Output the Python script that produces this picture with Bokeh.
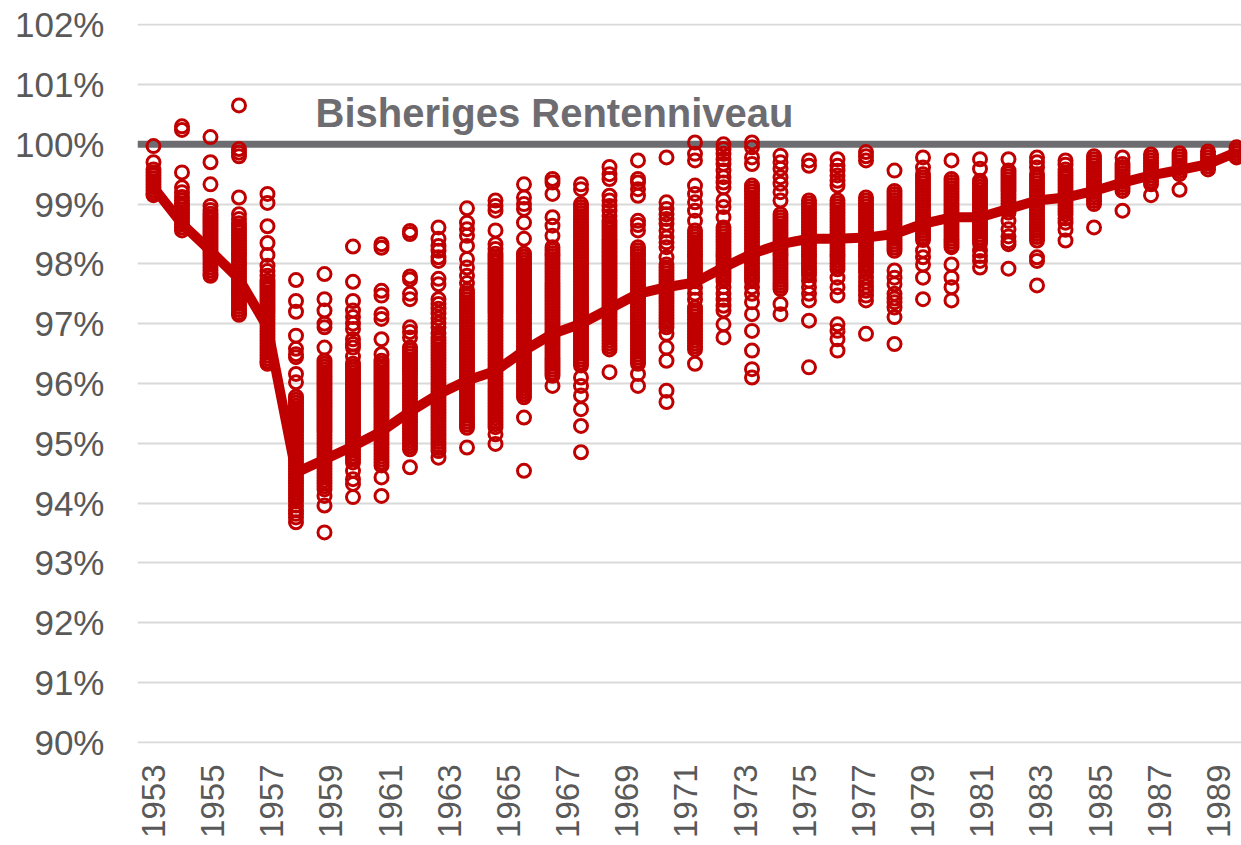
from bokeh.plotting import figure
from bokeh.models import Range1d, FixedTicker, PrintfTickFormatter, Span, Label, ColumnDataSource
from bokeh.embed import file_html
from bokeh.resources import INLINE
import math

# ---------------- data ----------------
tick_years = list(range(1953, 1990, 2))          # axis labels
y_ticks = list(range(90, 103))                     # 90% .. 102%

cohorts = list(range(1953, 1992))                  # scatter/line columns

mean_line = [99.28, 98.67, 98.22, 97.75, 96.94, 94.51, 94.73, 94.95, 95.20, 95.53,
             95.82, 96.05, 96.21, 96.55, 96.83, 97.00, 97.25, 97.50, 97.61, 97.69,
             97.94, 98.17, 98.33, 98.42, 98.42, 98.44, 98.50, 98.67, 98.78, 98.78,
             98.92, 99.06, 99.11, 99.22, 99.36, 99.48, 99.57, 99.67, 99.87]

c1953 = [99.97, 99.7, 99.58, 99.53, 99.48, 99.43, 99.38, 99.33, 99.28, 99.23, 99.18, 99.15]
c1954 = [100.3, 100.24, 99.53, 99.28, 99.2, 99.12, 99.06, 99.01, 98.96, 98.91, 98.86, 98.81, 98.76,
         98.71, 98.66, 98.61, 98.56]
c1955 = [100.12, 99.7, 99.33, 98.97, 98.9, 98.84, 98.79, 98.74, 98.69, 98.64, 98.59, 98.54, 98.49,
         98.44, 98.39, 98.34, 98.29, 98.24, 98.19, 98.14, 98.09, 98.04, 97.99, 97.94, 97.89, 97.84, 97.8]
c1956 = [100.65, 99.92, 99.86, 99.8, 99.11, 98.83, 98.75, 98.68, 98.63, 98.58, 98.53, 98.48, 98.43,
         98.38, 98.33, 98.28, 98.23, 98.18, 98.13, 98.08, 98.03, 97.98, 97.93, 97.88, 97.83, 97.78,
         97.73, 97.68, 97.63, 97.58, 97.53, 97.48, 97.43, 97.38, 97.33, 97.28, 97.23, 97.18, 97.15]
c1957 = [99.17, 99.02, 98.63, 98.35, 98.15, 97.97, 97.88, 97.8, 97.72, 97.67, 97.62, 97.57, 97.52,
         97.47, 97.42, 97.37, 97.32, 97.27, 97.22, 97.17, 97.12, 97.07, 97.02, 96.97, 96.92, 96.87,
         96.82, 96.77, 96.72, 96.67, 96.62, 96.57, 96.52, 96.47, 96.42, 96.37, 96.33]
c1958 = [97.73, 97.38, 97.2, 96.8, 96.58, 96.49, 96.44, 96.16, 96.02, 95.78, 95.73, 95.68, 95.63,
         95.58, 95.53, 95.48, 95.43, 95.38, 95.33, 95.28, 95.23, 95.18, 95.13, 95.08, 95.03, 94.98,
         94.93, 94.88, 94.83, 94.78, 94.73, 94.68, 94.63, 94.58, 94.53, 94.48, 94.43, 94.38, 94.33,
         94.28, 94.23, 94.18, 94.13, 94.08, 94.03, 93.96, 93.88, 93.82, 93.76, 93.68]
c1959 = [97.83, 97.41, 97.22, 97.0, 96.94, 96.6, 96.38, 96.33, 96.28, 96.23, 96.18, 96.13, 96.08,
         96.03, 95.98, 95.93, 95.88, 95.83, 95.78, 95.73, 95.68, 95.63, 95.58, 95.53, 95.48, 95.43,
         95.38, 95.33, 95.28, 95.23, 95.18, 95.13, 95.08, 95.03, 94.98, 94.93, 94.88, 94.83, 94.78,
         94.73, 94.68, 94.63, 94.58, 94.53, 94.48, 94.43, 94.38, 94.33, 94.28, 94.23, 94.12, 93.96, 93.51]
c1960 = [98.29, 97.7, 97.38, 97.22, 97.11, 97.0, 96.91, 96.74, 96.66, 96.6, 96.45, 96.33, 96.28,
         96.23, 96.18, 96.13, 96.08, 96.03, 95.98, 95.93, 95.88, 95.83, 95.78, 95.73, 95.68, 95.63,
         95.58, 95.53, 95.48, 95.43, 95.38, 95.33, 95.28, 95.23, 95.18, 95.13, 95.08, 95.03, 94.98,
         94.93, 94.88, 94.83, 94.78, 94.73, 94.68, 94.54, 94.4, 94.32, 94.1]
c1961 = [98.33, 98.27, 97.55, 97.47, 97.16, 97.08, 96.74, 96.49, 96.38, 96.33, 96.28, 96.23, 96.18,
         96.13, 96.08, 96.03, 95.98, 95.93, 95.88, 95.83, 95.78, 95.73, 95.68, 95.63, 95.58, 95.53,
         95.48, 95.43, 95.38, 95.33, 95.28, 95.23, 95.18, 95.13, 95.08, 95.03, 94.98, 94.93, 94.88,
         94.83, 94.78, 94.73, 94.68, 94.63, 94.43, 94.12]
c1962 = [98.55, 98.5, 97.79, 97.74, 97.5, 97.41, 96.94, 96.86, 96.77, 96.6, 96.55, 96.5, 96.45,
         96.4, 96.35, 96.3, 96.25, 96.2, 96.15, 96.1, 96.05, 96.0, 95.95, 95.9, 95.85, 95.8, 95.75,
         95.7, 95.65, 95.6, 95.55, 95.5, 95.45, 95.4, 95.35, 95.3, 95.25, 95.2, 95.15, 95.1, 95.05,
         95.0, 94.95, 94.9, 94.6]
c1963 = [98.61, 98.42, 98.3, 98.22, 98.11, 98.05, 97.75, 97.66, 97.41, 97.33, 97.25, 97.17, 97.09,
         97.01, 96.94, 96.84, 96.77, 96.72, 96.67, 96.62, 96.57, 96.52, 96.47, 96.42, 96.37, 96.32,
         96.27, 96.22, 96.17, 96.12, 96.07, 96.02, 95.97, 95.92, 95.87, 95.82, 95.77, 95.72, 95.67,
         95.62, 95.57, 95.52, 95.47, 95.42, 95.37, 95.32, 95.27, 95.22, 95.17, 95.12, 95.07, 95.02,
         94.97, 94.92, 94.87, 94.76]
c1964 = [98.93, 98.69, 98.58, 98.47, 98.3, 98.08, 97.94, 97.8, 97.68, 97.56, 97.51, 97.46, 97.41,
         97.36, 97.31, 97.26, 97.21, 97.16, 97.11, 97.06, 97.01, 96.96, 96.91, 96.86, 96.81, 96.76,
         96.71, 96.66, 96.61, 96.56, 96.51, 96.46, 96.41, 96.36, 96.31, 96.26, 96.21, 96.16, 96.11,
         96.06, 96.01, 95.96, 95.91, 95.86, 95.81, 95.76, 95.71, 95.66, 95.61, 95.56, 95.51, 95.46,
         95.41, 95.36, 95.31, 95.26, 94.93]
c1965 = [99.06, 98.97, 98.89, 98.56, 98.33, 98.25, 98.17, 98.12, 98.07, 98.02, 97.97, 97.92, 97.87,
         97.82, 97.77, 97.72, 97.67, 97.62, 97.57, 97.52, 97.47, 97.42, 97.37, 97.32, 97.27, 97.22,
         97.17, 97.12, 97.07, 97.02, 96.97, 96.92, 96.87, 96.82, 96.77, 96.72, 96.67, 96.62, 96.57,
         96.52, 96.47, 96.42, 96.37, 96.32, 96.27, 96.22, 96.17, 96.12, 96.07, 96.02, 95.97, 95.92,
         95.87, 95.82, 95.77, 95.72, 95.67, 95.62, 95.57, 95.52, 95.47, 95.42, 95.37, 95.32, 95.27,
         95.15, 94.99]
c1966 = [99.33, 99.11, 99.0, 98.92, 98.69, 98.42, 98.17, 98.12, 98.07, 98.02, 97.97, 97.92, 97.87,
         97.82, 97.77, 97.72, 97.67, 97.62, 97.57, 97.52, 97.47, 97.42, 97.37, 97.32, 97.27, 97.22,
         97.17, 97.12, 97.07, 97.02, 96.97, 96.92, 96.87, 96.82, 96.77, 96.72, 96.67, 96.62, 96.57,
         96.52, 96.47, 96.42, 96.37, 96.32, 96.27, 96.22, 96.17, 96.12, 96.07, 96.02, 95.97, 95.92,
         95.87, 95.82, 95.77, 95.43, 94.54]
c1967 = [99.42, 99.36, 99.17, 98.78, 98.64, 98.47, 98.28, 98.23, 98.18, 98.13, 98.08, 98.03, 97.98,
         97.93, 97.88, 97.83, 97.78, 97.73, 97.68, 97.63, 97.58, 97.53, 97.48, 97.43, 97.38, 97.33,
         97.28, 97.23, 97.18, 97.13, 97.08, 97.03, 96.98, 96.93, 96.88, 96.83, 96.78, 96.73, 96.68,
         96.63, 96.58, 96.53, 96.48, 96.43, 96.38, 96.33, 96.28, 96.23, 96.18, 96.13, 95.96]
c1968 = [99.33, 99.25, 99.0, 98.95, 98.9, 98.85, 98.8, 98.75, 98.7, 98.65, 98.6, 98.55, 98.5, 98.45,
         98.4, 98.35, 98.3, 98.25, 98.2, 98.15, 98.1, 98.05, 98.0, 97.95, 97.9, 97.85, 97.8, 97.75,
         97.7, 97.65, 97.6, 97.55, 97.5, 97.45, 97.4, 97.35, 97.3, 97.25, 97.2, 97.15, 97.1, 97.05,
         97.0, 96.95, 96.9, 96.85, 96.8, 96.75, 96.7, 96.65, 96.6, 96.55, 96.5, 96.45, 96.4, 96.35,
         96.3, 96.1, 95.96, 95.8, 95.57, 95.29, 94.85]
c1969 = [99.62, 99.5, 99.42, 99.14, 99.06, 98.97, 98.89, 98.8, 98.72, 98.67, 98.62, 98.57, 98.52,
         98.47, 98.42, 98.37, 98.32, 98.27, 98.22, 98.17, 98.12, 98.07, 98.02, 97.97, 97.92, 97.87,
         97.82, 97.77, 97.72, 97.67, 97.62, 97.57, 97.52, 97.47, 97.42, 97.37, 97.32, 97.27, 97.22,
         97.17, 97.12, 97.07, 97.02, 96.97, 96.92, 96.87, 96.82, 96.77, 96.72, 96.67, 96.62, 96.57,
         96.19]
c1970 = [99.73, 99.42, 99.36, 99.25, 99.14, 98.72, 98.65, 98.56, 98.28, 98.23, 98.18, 98.13, 98.08,
         98.03, 97.98, 97.93, 97.88, 97.83, 97.78, 97.73, 97.68, 97.63, 97.58, 97.53, 97.48, 97.43,
         97.38, 97.33, 97.28, 97.23, 97.18, 97.13, 97.08, 97.03, 96.98, 96.93, 96.88, 96.83, 96.78,
         96.73, 96.68, 96.63, 96.58, 96.53, 96.48, 96.43, 96.38, 96.33, 96.16, 95.96]
c1971 = [99.78, 99.03, 98.92, 98.83, 98.75, 98.67, 98.56, 98.44, 98.36, 98.28, 98.11, 97.99, 97.94,
         97.89, 97.84, 97.79, 97.74, 97.69, 97.64, 97.59, 97.54, 97.49, 97.44, 97.39, 97.34, 97.29,
         97.24, 97.19, 97.14, 97.09, 97.04, 96.99, 96.94, 96.83, 96.6, 96.38, 95.88, 95.69]
c1972 = [100.03, 99.84, 99.73, 99.31, 99.17, 99.03, 98.89, 98.72, 98.56, 98.51, 98.46, 98.41, 98.36,
         98.31, 98.26, 98.21, 98.16, 98.11, 98.06, 98.01, 97.96, 97.91, 97.86, 97.81, 97.76, 97.71,
         97.6, 97.5, 97.4, 97.27, 97.22, 97.17, 97.12, 97.07, 97.02, 96.97, 96.92, 96.87, 96.82,
         96.77, 96.72, 96.67, 96.62, 96.57, 96.33]
c1973 = [100.0, 99.92, 99.84, 99.75, 99.67, 99.56, 99.45, 99.36, 99.28, 99.06, 98.95, 98.78, 98.61,
         98.56, 98.51, 98.46, 98.41, 98.36, 98.31, 98.26, 98.21, 98.16, 98.11, 98.06, 98.01, 97.96,
         97.91, 97.86, 97.81, 97.76, 97.71, 97.61, 97.5, 97.4, 97.3, 97.22, 96.99, 96.77]
c1974 = [100.03, 99.95, 99.78, 99.67, 99.31, 99.26, 99.21, 99.16, 99.11, 99.06, 99.01, 98.96, 98.91,
         98.86, 98.81, 98.76, 98.71, 98.66, 98.61, 98.56, 98.51, 98.46, 98.41, 98.36, 98.31, 98.26,
         98.21, 98.16, 98.11, 98.06, 98.01, 97.96, 97.91, 97.86, 97.81, 97.76, 97.71, 97.61, 97.5,
         97.36, 97.16, 96.88, 96.55, 96.24, 96.1]
c1975 = [99.81, 99.7, 99.59, 99.45, 99.34, 99.2, 99.06, 98.83, 98.78, 98.73, 98.68, 98.63, 98.58,
         98.53, 98.48, 98.43, 98.38, 98.33, 98.28, 98.23, 98.18, 98.13, 98.08, 98.03, 97.98, 97.93,
         97.88, 97.83, 97.78, 97.73, 97.68, 97.63, 97.58, 97.33, 97.16]
c1976 = [99.73, 99.64, 99.06, 99.01, 98.96, 98.91, 98.86, 98.81, 98.76, 98.71, 98.66, 98.61, 98.56,
         98.51, 98.46, 98.41, 98.36, 98.31, 98.26, 98.21, 98.16, 98.11, 98.06, 98.01, 97.96, 97.91,
         97.86, 97.81, 97.72, 97.61, 97.5, 97.39, 97.05, 96.27]
c1977 = [99.75, 99.64, 99.56, 99.48, 99.39, 99.31, 99.06, 99.01, 98.96, 98.91, 98.86, 98.81, 98.76,
         98.71, 98.66, 98.61, 98.56, 98.51, 98.46, 98.41, 98.36, 98.31, 98.26, 98.21, 98.16, 98.11,
         98.06, 98.01, 97.96, 97.91, 97.77, 97.61, 97.47, 96.99, 96.88, 96.74, 96.55]
c1978 = [99.87, 99.8, 99.73, 99.11, 99.06, 99.01, 98.96, 98.91, 98.86, 98.81, 98.76, 98.71, 98.66,
         98.61, 98.56, 98.51, 98.46, 98.41, 98.36, 98.31, 98.26, 98.21, 98.16, 98.11, 98.06, 98.01,
         97.96, 97.91, 97.86, 97.78, 97.7, 97.62, 97.55, 97.47, 97.39, 96.83]
c1979 = [99.56, 99.22, 99.17, 99.12, 99.07, 99.02, 98.97, 98.92, 98.87, 98.82, 98.77, 98.72, 98.67,
         98.62, 98.57, 98.52, 98.47, 98.42, 98.37, 98.32, 98.27, 98.22, 97.89, 97.77, 97.66, 97.5,
         97.42, 97.36, 97.27, 97.11, 96.66]
c1980 = [99.78, 99.61, 99.5, 99.45, 99.4, 99.35, 99.3, 99.25, 99.2, 99.15, 99.1, 99.05, 99.0, 98.95,
         98.9, 98.85, 98.8, 98.75, 98.7, 98.65, 98.6, 98.55, 98.5, 98.45, 98.4, 98.22, 98.11, 97.99,
         97.77, 97.41]
c1981 = [99.73, 99.42, 99.37, 99.32, 99.27, 99.22, 99.17, 99.12, 99.07, 99.02, 98.97, 98.92, 98.87,
         98.82, 98.77, 98.72, 98.67, 98.62, 98.57, 98.52, 98.47, 98.42, 98.37, 98.32, 98.28, 97.99,
         97.77, 97.61, 97.39]
c1982 = [99.75, 99.59, 99.39, 99.34, 99.29, 99.24, 99.19, 99.14, 99.09, 99.04, 98.99, 98.94, 98.89,
         98.84, 98.79, 98.74, 98.69, 98.64, 98.59, 98.54, 98.49, 98.44, 98.39, 98.34, 98.22, 98.13,
         98.05, 97.94]
c1983 = [99.75, 99.56, 99.51, 99.46, 99.41, 99.36, 99.31, 99.26, 99.21, 99.16, 99.11, 99.06, 99.01,
         98.96, 98.91, 98.86, 98.72, 98.58, 98.46, 98.38, 98.33, 97.92]
c1984 = [99.78, 99.7, 99.61, 99.5, 99.45, 99.4, 99.35, 99.3, 99.25, 99.2, 99.15, 99.1, 99.05, 99.0,
         98.95, 98.9, 98.85, 98.8, 98.75, 98.7, 98.65, 98.6, 98.55, 98.5, 98.45, 98.39, 98.11, 98.05,
         97.64]
c1985 = [99.73, 99.66, 99.58, 99.53, 99.48, 99.43, 99.38, 99.33, 99.28, 99.23, 99.18, 99.13, 99.08,
         99.03, 98.98, 98.93, 98.88, 98.83, 98.76, 98.69, 98.57, 98.39]
c1986 = [99.8, 99.75, 99.7, 99.65, 99.6, 99.55, 99.5, 99.45, 99.4, 99.35, 99.3, 99.25, 99.2, 99.15,
         99.1, 99.05, 99.0, 98.61]
c1987 = [99.78, 99.67, 99.62, 99.57, 99.52, 99.47, 99.42, 99.37, 99.32, 99.27, 99.22, 98.89]
c1988 = [99.83, 99.78, 99.73, 99.68, 99.63, 99.58, 99.53, 99.48, 99.43, 99.38, 99.33, 99.15]
c1989 = [99.85, 99.8, 99.75, 99.7, 99.65, 99.6, 99.55, 99.5, 99.24]
c1990 = [99.88, 99.83, 99.78, 99.73, 99.68, 99.63, 99.58]
c1991 = [99.95, 99.9, 99.85, 99.8, 99.78]

scatter_columns = [c1953, c1954, c1955, c1956, c1957, c1958, c1959, c1960, c1961, c1962,
                   c1963, c1964, c1965, c1966, c1967, c1968, c1969, c1970, c1971, c1972,
                   c1973, c1974, c1975, c1976, c1977, c1978, c1979, c1980, c1981, c1982,
                   c1983, c1984, c1985, c1986, c1987, c1988, c1989, c1990, c1991]

reference_level = 100
annotation_text = "Bisheriges Rentenniveau"
annotation_x = 1958.48     # in axis-label year units
annotation_y = 100.53

# ---------------- styles ----------------
RED = "#c00000"
GRAY_LINE = "#6d6c71"
TEXT = "#595959"
GRID = "#d9d9d9"
FONT = "Liberation Sans"

p = figure(width=1241, height=845,
           x_range=Range1d(1952.459, 1989.782),
           y_range=Range1d(89.98, 102.02),
           output_backend="svg", toolbar_location=None,
           min_border_left=137, min_border_right=0,
           min_border_top=23, min_border_bottom=102)
p.extra_x_ranges = {"cohort": Range1d(1952.439, 1991.175)}

p.outline_line_color = None
p.background_fill_color = "white"
p.border_fill_color = "white"

p.xgrid.visible = False
p.ygrid.ticker = FixedTicker(ticks=y_ticks)
p.ygrid.grid_line_color = GRID
p.ygrid.grid_line_width = 2

p.yaxis.ticker = FixedTicker(ticks=y_ticks)
p.yaxis.formatter = PrintfTickFormatter(format="%d%%")
p.xaxis.ticker = FixedTicker(ticks=tick_years)
p.xaxis.major_label_orientation = math.pi / 2

for ax in (p.xaxis[0], p.yaxis[0]):
    ax.axis_line_color = None
    ax.major_tick_line_color = None
    ax.minor_tick_line_color = None
    ax.major_label_text_color = TEXT
    ax.major_label_text_font = FONT
p.yaxis.major_label_text_font_size = "35px"
p.yaxis.major_label_standoff = 27
p.xaxis.major_label_text_font_size = "33px"
p.xaxis.major_label_standoff = 15

span = Span(location=reference_level, dimension="width", line_color=GRAY_LINE,
            line_width=7, level="underlay")
p.add_layout(span)

xs = [c for c, vals in zip(cohorts, scatter_columns) for _ in vals]
ys = [v for vals in scatter_columns for v in vals]
src = ColumnDataSource(dict(x=xs, y=ys))
p.scatter("x", "y", source=src, marker="circle", size=13, fill_color=None,
          line_color=RED, line_width=3, x_range_name="cohort")

p.line(cohorts, mean_line, line_color=RED, line_width=10, line_join="round",
       x_range_name="cohort")

lab = Label(x=annotation_x, y=annotation_y, text=annotation_text,
            text_font=FONT, text_font_size="40px", text_font_style="bold",
            text_color=GRAY_LINE, text_align="left", text_baseline="alphabetic")
p.add_layout(lab)

open("out.html", "w").write(file_html(p, INLINE))
